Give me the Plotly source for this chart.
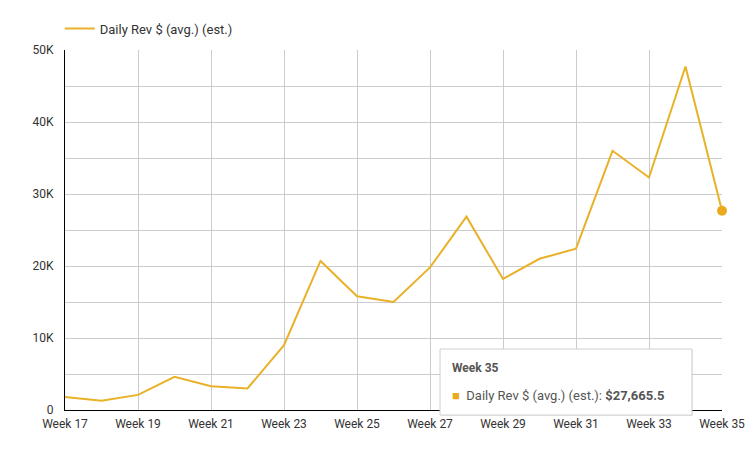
import plotly.graph_objects as go

weeks = [f"Week {w}" for w in range(17, 36)]
daily_rev = [1800, 1300, 2100, 4600, 3300, 3000, 9000, 20700, 15800, 15000,
             19800, 26850, 18200, 21000, 22400, 36000, 32300, 47700, 27665.5]
y_ticks = [0, 10000, 20000, 30000, 40000, 50000]
y_labels = ["0", "10K", "20K", "30K", "40K", "50K"]

line_color = "#E9B128"
font = "Roboto, Arial, sans-serif"

fig = go.Figure()
fig.add_trace(go.Scatter(x=weeks, y=daily_rev, mode="lines", name="Daily Rev $ (avg.) (est.)",
                         line=dict(color=line_color, width=2)))
# hovered point
fig.add_trace(go.Scatter(x=weeks[-1:], y=daily_rev[-1:], mode="markers", showlegend=False,
                         cliponaxis=False, marker=dict(color="#EBA920", size=10)))

fig.update_xaxes(type="category", range=[0, len(weeks) - 1], tickvals=weeks[::2],
                 showgrid=True, gridcolor="#cccccc", gridwidth=1,
                 showline=True, linecolor="#000000", linewidth=1, ticks="",
                 ticklabelstandoff=3, automargin=False,
                 tickfont=dict(size=12, color="#333333"))
fig.update_yaxes(range=[0, 50000], tickvals=y_ticks, ticktext=y_labels,
                 showgrid=True, gridcolor="#cccccc", gridwidth=1,
                 minor=dict(dtick=5000, showgrid=True, gridcolor="#cccccc"),
                 showline=True, linecolor="#000000", linewidth=1, zeroline=False,
                 ticklabelstandoff=8, automargin=False,
                 tickfont=dict(size=12, color="#333333"))

# tooltip box
fig.add_shape(type="rect", xref="paper", yref="paper", x0=0.5723, x1=0.9558, y0=-0.0165, y1=0.1667,
              line=dict(width=0), fillcolor="rgba(0,0,0,0.08)", layer="above")
fig.add_shape(type="rect", xref="paper", yref="paper", x0=0.5708, x1=0.9543, y0=-0.0139, y1=0.1694,
              line=dict(color="#d0d0d0", width=1), fillcolor="#ffffff", layer="above")
fig.add_annotation(xref="paper", yref="paper", x=0.5860, y=0.1167, xanchor="left", yanchor="middle",
                   text="<b>Week 35</b>", showarrow=False,
                   font=dict(family=font, size=12, color="#555555"))
fig.add_annotation(xref="paper", yref="paper", x=0.5860, y=0.0389, xanchor="left", yanchor="middle",
                   text="<span style='color:#EBA920'>■</span>  Daily Rev $ (avg.) (est.): <b>$27,665.5</b>",
                   showarrow=False, font=dict(family=font, size=13, color="#555555"))

fig.update_layout(width=755, height=464, plot_bgcolor="#ffffff", paper_bgcolor="#ffffff",
                  margin=dict(l=65, r=33, t=50, b=54, autoexpand=False),
                  font=dict(family=font, size=12, color="#333333"),
                  legend=dict(orientation="h", x=-0.008, y=1.018, xanchor="left", yanchor="bottom",
                              font=dict(size=13, color="#333333")),
                  hovermode=False)

fig.write_html("out.html", config={"displayModeBar": False},
               post_script="document.body.style.margin='0';")
